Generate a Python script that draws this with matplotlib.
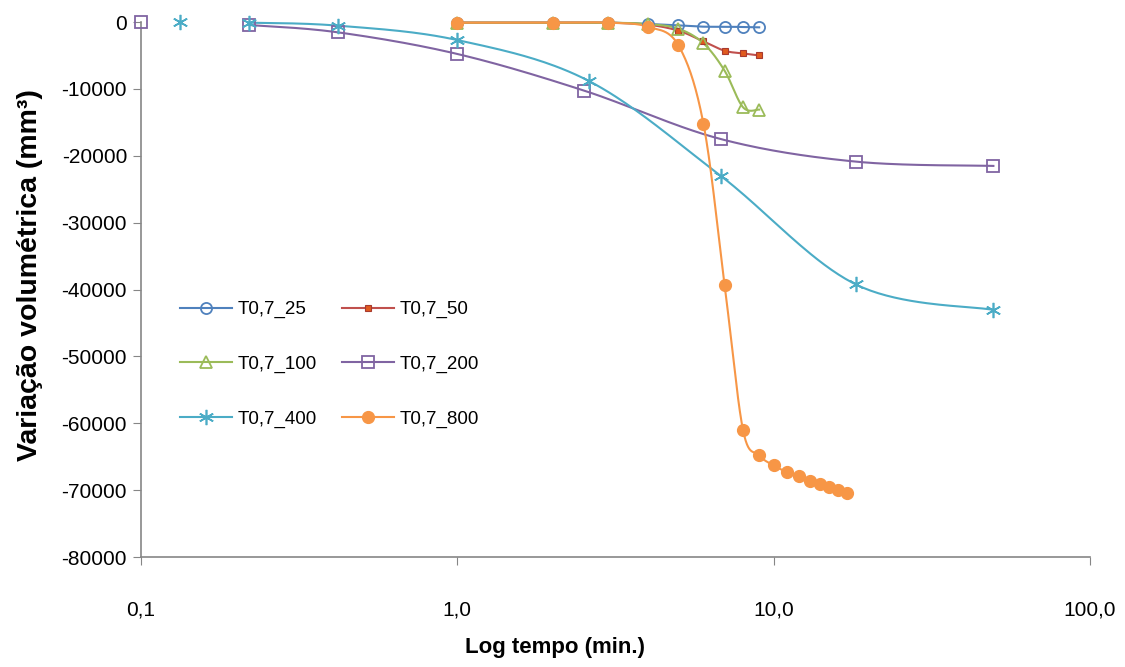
import numpy as np
import matplotlib
matplotlib.use("Agg")
import matplotlib.pyplot as plt

# ---------------- data ----------------
x_25 = [1, 2, 3, 4, 5, 6, 7, 8, 9]
y_25 = [-100, -100, -100, -300, -500, -700, -700, -750, -800]

x_50 = [1, 2, 3, 4, 5, 6, 7, 8, 9]
y_50 = [-100, -100, -100, -400, -1300, -2900, -4300, -4700, -5000]

x_100 = [1, 2, 3, 4, 5, 6, 7, 8, 9]
y_100 = [-100, -100, -100, -300, -1000, -3200, -7300, -12750, -13100]

x_200 = [0.1, 0.22, 0.42, 1.0, 2.52, 6.8, 18.2, 49.5]
y_200 = [0, -450, -1550, -4780, -10270, -17500, -20880, -21520]

x_400 = [0.133, 0.22, 0.42, 1.0, 2.6, 6.8, 18.2, 49.5]
y_400 = [0, -100, -550, -2700, -8800, -23000, -39250, -43050]

x_800 = [1, 2, 3, 4, 5, 6, 7, 8, 9, 10, 11, 12, 13, 14, 15, 16, 17]
y_800 = [-100, -100, -100, -700, -3500, -15250, -39400, -61000, -64800,
         -66300, -67300, -67900, -68600, -69100, -69600, -70000, -70400]

labels = ["T0,7_25", "T0,7_50", "T0,7_100", "T0,7_200", "T0,7_400", "T0,7_800"]
x_ticks = [0.1, 1, 10, 100]
x_tick_labels = ["0,1", "1,0", "10,0", "100,0"]
y_ticks = [0, -10000, -20000, -30000, -40000, -50000, -60000, -70000, -80000]

font = "Liberation Sans"

fig = plt.figure(figsize=(11.25, 6.67), dpi=100)
ax = fig.add_axes([141 / 1125, 1 - 557 / 667, (1090 - 141) / 1125, (557 - 22) / 667])
ax.set_xscale("log")
ax.set_xlim(0.1, 100)
ax.set_ylim(-80000, 0)


def smooth(xs, ys, n=40):
    pts = ax.transData.transform(np.column_stack([xs, ys]))
    out = [pts[0]]
    for i in range(len(pts) - 1):
        p0 = pts[i - 1] if i > 0 else pts[i]
        p1 = pts[i]
        p2 = pts[i + 1]
        p3 = pts[i + 2] if i + 2 < len(pts) else pts[i + 1]
        c1 = p1 + (p2 - p0) / 6.0
        c2 = p2 - (p3 - p1) / 6.0
        t = np.linspace(0, 1, n)[1:, None]
        seg = (1 - t) ** 3 * p1 + 3 * (1 - t) ** 2 * t * c1 + 3 * (1 - t) * t ** 2 * c2 + t ** 3 * p2
        out.extend(seg)
    d = ax.transData.inverted().transform(np.array(out))
    return d[:, 0], d[:, 1]


series = [
    (x_25, y_25, "#4F81BD", dict(marker="o", ms=8, mfc="none", mec="#4F81BD", mew=1.3), 0),
    (x_50, y_50, "#C0504D", dict(marker="s", ms=4.5, mfc="#E05A1E", mec="#A83A30", mew=0.8), 0),
    (x_100, y_100, "#9BBB59", dict(marker="^", ms=9, mfc="none", mec="#9BBB59", mew=1.3), 0),
    (x_200, y_200, "#8064A2", dict(marker="s", ms=8, mfc="none", mec="#8064A2", mew=1.3), 1),
    (x_400, y_400, "#4BACC6", dict(marker=(6, 2, 0), ms=11, mec="#4BACC6", mew=1.2), 1),
    (x_800, y_800, "#F79646", dict(marker="o", ms=8.5, mfc="#F79646", mec="#F79646", mew=1), 0),
]

handles = []
for xs, ys, col, mk, start in series:
    sx, sy = smooth(xs[start:], ys[start:])
    ax.plot(sx, sy, color=col, lw=1.5, clip_on=False, zorder=2)
    ax.plot(xs, ys, linestyle="none", clip_on=False, zorder=3, **mk)
    h, = ax.plot([], [], color=col, lw=1.5, **mk)
    handles.append(h)

for s in ["top", "right"]:
    ax.spines[s].set_visible(False)
for s in ["left", "bottom"]:
    ax.spines[s].set_color("#868686")
    ax.spines[s].set_linewidth(1.2)

ax.set_xticks(x_ticks)
ax.set_xticklabels(x_tick_labels)
ax.xaxis.set_minor_locator(matplotlib.ticker.NullLocator())
ax.set_yticks(y_ticks)
ax.set_yticklabels([str(v) for v in y_ticks])
ax.tick_params(axis="x", direction="out", length=6, color="#868686", pad=25, labelsize=15)
ax.tick_params(axis="y", direction="out", length=6, color="#868686", pad=4, labelsize=15)
for lab in ax.get_xticklabels() + ax.get_yticklabels():
    lab.set_fontfamily(font)
    lab.set_color("#000000")

fig.text(555 / 1125, 1 - 648 / 667, "Log tempo (min.)", family=font, weight="bold",
         fontsize=16, ha="center", va="center")
fig.text(30 / 1125, 1 - 275 / 667, "Variação volumétrica (mm³)", family=font, weight="bold",
         fontsize=20.5, ha="center", va="center", rotation=90)

order = [0, 2, 4, 1, 3, 5]
leg = ax.legend([handles[i] for i in order], [labels[i] for i in order],
                ncol=2, frameon=False, loc="upper left",
                bbox_to_anchor=(180 / 1125, 1 - 301 / 667), bbox_transform=fig.transFigure,
                prop={"family": font, "size": 13.5}, numpoints=1,
                handlelength=2.77, handletextpad=0.32, labelspacing=2.0,
                columnspacing=1.3, borderpad=0, borderaxespad=0)

fig.savefig("out.png", dpi=100)
